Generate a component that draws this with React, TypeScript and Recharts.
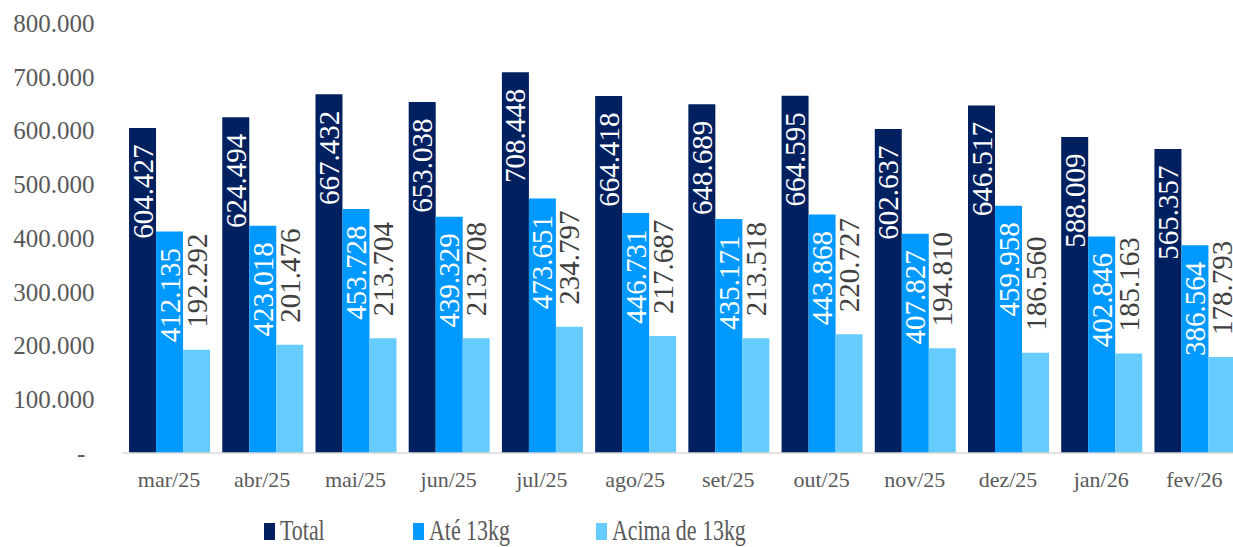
import { Bar, BarChart, LabelList, XAxis, YAxis } from "recharts";

const months = ["mar/25", "abr/25", "mai/25", "jun/25", "jul/25", "ago/25", "set/25", "out/25", "nov/25", "dez/25", "jan/26", "fev/26"];
const total = [604427, 624494, 667432, 653038, 708448, 664418, 648689, 664595, 602637, 646517, 588009, 565357];
const ate13 = [412135, 423018, 453728, 439329, 473651, 446731, 435171, 443868, 407827, 459958, 402846, 386564];
const acima13 = [192292, 201476, 213704, 213708, 234797, 217687, 213518, 220727, 194810, 186560, 185163, 178793];
const yTicks = [0, 100000, 200000, 300000, 400000, 500000, 600000, 700000, 800000];

const data = months.map((m, i) => ({ month: m, total: total[i], ate: ate13[i], acima: acima13[i] }));

const FONT = "'Liberation Serif', serif";
const GREY = "#595959";

const fmt = (v: number) => String(v).replace(/\B(?=(\d{3})+(?!\d))/g, ".");

function InsideLabel(props: any) {
  const { x, y, width, value } = props;
  const cx = Number(x) + Number(width) / 2;
  return (
    <text
      transform={`translate(${cx + 10},${Number(y) + 16.5}) rotate(-90)`}
      textAnchor="end"
      fill="#ffffff"
      fontSize={29}
      fontFamily={FONT}
    >
      {fmt(value)}
    </text>
  );
}

function OutsideLabel(props: any) {
  const { x, y, width, value } = props;
  const cx = Number(x) + Number(width) / 2;
  return (
    <text
      transform={`translate(${cx + 10},${Number(y) - 22}) rotate(-90)`}
      textAnchor="start"
      fill="#404040"
      fontSize={29}
      fontFamily={FONT}
    >
      {fmt(value)}
    </text>
  );
}

function YTick(props: any) {
  const { x, y, payload } = props;
  const zero = payload.value === 0;
  return (
    <text x={zero ? x - 37 : x - 28} y={y} dy="0.35em" textAnchor="end" fill={GREY} fontSize={25} fontFamily={FONT}>
      {zero ? "-" : fmt(payload.value)}
    </text>
  );
}

function XTick(props: any) {
  const { x, y, payload } = props;
  return (
    <text x={x} y={y + 34} textAnchor="middle" fill={GREY} fontSize={22} fontFamily={FONT}>
      {payload.value}
    </text>
  );
}

const legendItems = [
  { name: "Total", color: "#002060", left: 264 },
  { name: "Até 13kg", color: "#0099ff", left: 413 },
  { name: "Acima de 13kg", color: "#66ccff", left: 596 },
];

export default function App() {
  return (
    <div style={{ position: "fixed", left: 0, top: 0, width: 1233, height: 547, overflow: "hidden", background: "#fff" }}>
      <BarChart
        width={1241}
        height={547}
        data={data}
        margin={{ top: 23, right: 0, left: 0, bottom: 54 }}
        barGap={0}
        barCategoryGap={6.65}
      >
        <XAxis
          dataKey="month"
          axisLine={{ stroke: "#d9d9d9", strokeWidth: 1.5 }}
          tickLine={false}
          tickSize={0}
          tickMargin={0}
          height={40}
          tick={<XTick />}
          interval={0}
        />
        <YAxis
          width={122.4}
          domain={[0, 800000]}
          ticks={yTicks}
          axisLine={false}
          tickLine={false}
          tickSize={0}
          tickMargin={0}
          tick={<YTick />}
          interval={0}
        />
        <Bar dataKey="total" fill="#002060" isAnimationActive={false}>
          <LabelList dataKey="total" content={<InsideLabel />} />
        </Bar>
        <Bar dataKey="ate" fill="#0099ff" isAnimationActive={false}>
          <LabelList dataKey="ate" content={<InsideLabel />} />
        </Bar>
        <Bar dataKey="acima" fill="#66ccff" isAnimationActive={false}>
          <LabelList dataKey="acima" content={<OutsideLabel />} />
        </Bar>
      </BarChart>
      {legendItems.map((it) => (
        <div key={it.name} style={{ position: "absolute", left: it.left, top: 512, height: 35, whiteSpace: "nowrap" }}>
          <span style={{ position: "absolute", left: 0, top: 11, width: 11, height: 17, background: it.color }} />
          <span
            style={{
              position: "absolute",
              left: 16,
              top: 0,
              fontFamily: FONT,
              fontSize: 30,
              lineHeight: "35px",
              color: GREY,
              transform: "scaleX(0.73)",
              transformOrigin: "left center",
            }}
          >
            {it.name}
          </span>
        </div>
      ))}
    </div>
  );
}
